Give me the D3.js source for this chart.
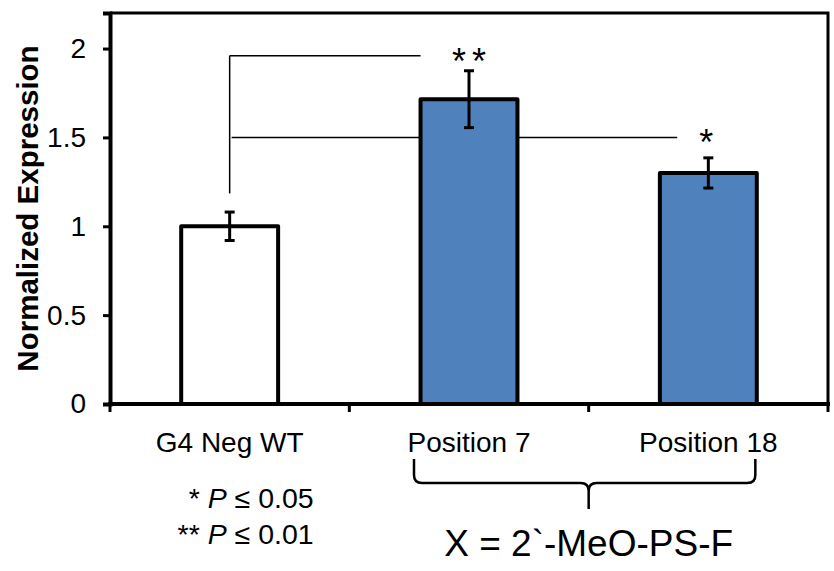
<!DOCTYPE html>
<html>
<head>
<meta charset="utf-8">
<script src="https://cdn.jsdelivr.net/npm/d3@7"></script>
<style>
  body { margin: 0; background: #fff; }
  text { font-family: "Liberation Sans", Arial, sans-serif; fill: #000; }
</style>
</head>
<body>
<svg id="chart"></svg>
<script>
// data
const categories = ["G4 Neg WT", "Position 7", "Position 18"];
const values = [1.0, 1.715, 1.30];
const errors = [0.08, 0.16, 0.085];
const fills = ["#ffffff", "#4f81bd", "#4f81bd"];
const yTicks = [0, 0.5, 1, 1.5, 2];
const brackets = [
  { to: "Position 7", level: 1.96, drop: 1.185, mark: "**" },
  { to: "Position 18", level: 1.5, drop: null, mark: "*" }
];
const footnotes = ["* P \u2264 0.05", "** P \u2264 0.01"];
const groupLabel = "X = 2`-MeO-PS-F";

const W = 834, H = 571;
const margin = { top: 13, right: 6, bottom: 167, left: 110 };

const svg = d3.select("#chart").attr("width", W).attr("height", H);

const x = d3.scaleBand()
  .domain(categories)
  .range([margin.left, W - margin.right])
  .padding(0);

const y = d3.scaleLinear()
  .domain([0, 2.2])
  .range([H - margin.bottom, margin.top]);

const bw = x.bandwidth();
const barW = bw * 0.405;
const cx = c => x(c) + bw / 2;

// significance brackets (drawn first so bars cover them)
const ref = categories[0];
brackets.forEach(b => {
  const endX = b.to === "Position 7" ? cx(b.to) - barW / 2 : cx(b.to) - bw * 0.13;
  svg.append("line")
    .attr("x1", cx(ref) + (b.drop ? 0 : 2)).attr("x2", endX)
    .attr("y1", y(b.level)).attr("y2", y(b.level))
    .attr("stroke", "#000").attr("stroke-width", 1.5);
  if (b.drop) {
    svg.append("line")
      .attr("x1", cx(ref)).attr("x2", cx(ref))
      .attr("y1", y(b.level)).attr("y2", y(b.drop))
      .attr("stroke", "#000").attr("stroke-width", 1.5);
  }
  svg.append("text")
    .attr("x", cx(b.to) + (b.mark.length > 1 ? 3 : -2))
    .attr("y", y(b.level) + 18)
    .attr("text-anchor", "middle")
    .attr("font-size", 36)
    .attr("letter-spacing", b.mark.length > 1 ? 6 : 0)
    .text(b.mark);
});

// bars
svg.selectAll(".bar")
  .data(categories)
  .enter().append("rect")
  .attr("class", "bar")
  .attr("x", d => cx(d) - barW / 2)
  .attr("y", (d, i) => y(values[i]))
  .attr("width", barW)
  .attr("height", (d, i) => y(0) - y(values[i]))
  .attr("fill", (d, i) => fills[i])
  .attr("stroke", "#000")
  .attr("stroke-width", 4)
  .attr("stroke-linejoin", "round");

// error bars
categories.forEach((c, i) => {
  const g = svg.append("g").attr("stroke", "#000").attr("stroke-width", 3);
  const lo = y(values[i] - errors[i]), hi = y(values[i] + errors[i]);
  g.append("line").attr("x1", cx(c)).attr("x2", cx(c)).attr("y1", lo).attr("y2", hi);
  g.append("line").attr("x1", cx(c) - 5).attr("x2", cx(c) + 5).attr("y1", lo).attr("y2", lo);
  g.append("line").attr("x1", cx(c) - 5).attr("x2", cx(c) + 5).attr("y1", hi).attr("y2", hi);
});

// frame top and right
svg.append("path")
  .attr("d", `M${margin.left},${y(2.2)}H${W - margin.right}V${y(0)}`)
  .attr("fill", "none").attr("stroke", "#000").attr("stroke-width", 3);

// y axis
const yAxis = svg.append("g")
  .attr("transform", `translate(${margin.left},0)`)
  .call(d3.axisLeft(y).tickValues(yTicks).tickSize(7).tickPadding(17)
    .tickFormat(d3.format("~g")));
yAxis.select(".domain").attr("stroke-width", 4);
yAxis.selectAll(".tick line").attr("stroke-width", 3);
yAxis.selectAll(".tick text")
  .attr("font-family", "Liberation Sans, Arial, sans-serif")
  .attr("font-size", 28);

// x axis: ticks sit on the band edges
const xAxis = svg.append("g")
  .attr("transform", `translate(0,${y(0)})`);
xAxis.append("line")
  .attr("x1", margin.left - 2).attr("x2", W - margin.right + 2)
  .attr("stroke", "#000").attr("stroke-width", 4);
const edges = categories.map(c => x(c)).concat([x(categories[categories.length - 1]) + bw]);
xAxis.selectAll(".edge")
  .data(edges)
  .enter().append("line")
  .attr("x1", d => d).attr("x2", d => d)
  .attr("y1", 0).attr("y2", 8)
  .attr("stroke", "#000").attr("stroke-width", 3);
xAxis.selectAll(".lbl")
  .data(categories)
  .enter().append("text")
  .attr("x", d => cx(d))
  .attr("y", 48)
  .attr("text-anchor", "middle")
  .attr("font-size", 28)
  .text(d => d);

// y title
svg.append("text")
  .attr("transform", `translate(38,${(y(0) + y(2.2)) / 2}) rotate(-90)`)
  .attr("text-anchor", "middle")
  .attr("font-size", 29.5)
  .attr("font-weight", "bold")
  .text("Normalized Expression");

// footnotes, P in italics
footnotes.forEach((f, i) => {
  const parts = f.split("P");
  const t = svg.append("text")
    .attr("x", cx(categories[0]) + 84)
    .attr("y", y(0) + 104 + i * 36)
    .attr("text-anchor", "end")
    .attr("font-size", 28.5);
  t.append("tspan").text(parts[0]);
  t.append("tspan").attr("font-style", "italic").text("P");
  t.append("tspan").text(parts[1]);
});

// brace under the two modified positions
const bl = cx(categories[1]) - 55, br = cx(categories[2]) + 47, bm = x(categories[2]);
const bt = y(0) + 55, bh = y(0) + 79, bp = y(0) + 105, r = 8;
svg.append("path")
  .attr("d", `M${bl},${bt}V${bh - r}Q${bl},${bh} ${bl + r},${bh}H${bm - r}Q${bm},${bh} ${bm},${bh + r}V${bp}`
    + `M${br},${bt}V${bh - r}Q${br},${bh} ${br - r},${bh}H${bm + r}Q${bm},${bh} ${bm},${bh + r}`)
  .attr("fill", "none").attr("stroke", "#000").attr("stroke-width", 2.5);

svg.append("text")
  .attr("x", bm)
  .attr("y", y(0) + 152)
  .attr("text-anchor", "middle")
  .attr("font-size", 37)
  .text(groupLabel);
</script>
</body>
</html>
